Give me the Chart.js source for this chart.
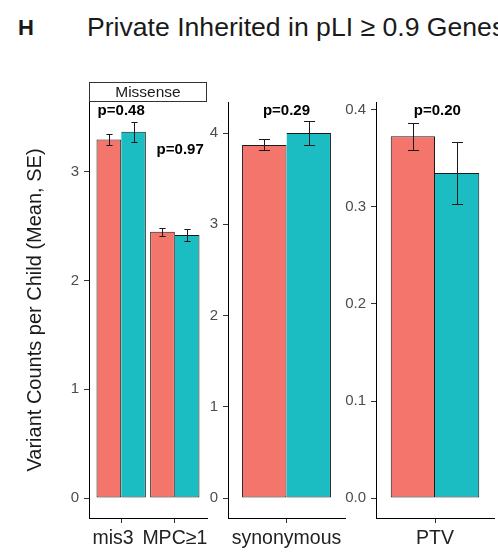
<!DOCTYPE html>
<html>
<head>
<meta charset="utf-8">
<script src="https://cdn.jsdelivr.net/npm/chart.js@4.4.1/dist/chart.umd.min.js"></script>
<style>
  html, body { margin: 0; padding: 0; background: #fff; overflow: hidden; }
  #wrap { position: relative; width: 498px; height: 560px; overflow: hidden;
          font-family: "Liberation Sans", Arial, sans-serif; }
  #wrap canvas { position: absolute; top: 0; }
  .t { position: absolute; white-space: nowrap; line-height: 1; color: #1a1a1a; }
</style>
</head>
<body>
<div id="wrap">
  <div class="t" style="left:18px;top:17px;font-size:22px;font-weight:bold">H</div>
  <div class="t" style="left:87px;top:14px;font-size:26.6px">Private Inherited in pLI ≥ 0.9 Genes</div>
  <canvas id="cMis" width="214" height="560" style="left:0"></canvas>
  <canvas id="cSyn" width="150" height="560" style="left:200px"></canvas>
  <canvas id="cPtv" width="153" height="560" style="left:345px"></canvas>
</div>
<script>
// ---- values: mean variant count per child and its standard error ----
const groupNames = ["Group 1", "Group 2"];

const missenseCategories = ["mis3", "MPC≥1"];
const missenseMean1 = [3.30, 2.45];
const missenseSE1   = [0.05, 0.035];
const missenseMean2 = [3.37, 2.42];
const missenseSE2   = [0.09, 0.055];
const missensePValues = ["p=0.48", "p=0.97"];
const missenseTickLabels = ["0", "1", "2", "3"];

const synonymousCategories = ["synonymous"];
const synonymousMean1 = [3.87];
const synonymousSE1   = [0.06];
const synonymousMean2 = [4.00];
const synonymousSE2   = [0.13];
const synonymousPValues = ["p=0.29"];
const synonymousTickLabels = ["0", "1", "2", "3", "4"];

const ptvCategories = ["PTV"];
const ptvMean1 = [0.373];
const ptvSE1   = [0.014];
const ptvMean2 = [0.335];
const ptvSE2   = [0.032];
const ptvPValues = ["p=0.20"];
const ptvTickLabels = ["0.0", "0.1", "0.2", "0.3", "0.4"];

// ---- styling ----
const FONT = "'Liberation Sans', Arial, sans-serif";
const RED = "#F3756C";
const TEAL = "#1CBDC2";
const INK = "#1a1a1a";

// error bars, p-value annotations and the facet strip
const decor = {
  id: "decor",
  afterDatasetsDraw(chart, args, o) {
    const ctx = chart.ctx;
    const xs = chart.scales.x, ys = chart.scales.y;
    ctx.save();
    ctx.strokeStyle = INK;
    ctx.lineWidth = 1;
    chart.data.datasets.forEach((ds, di) => {
      chart.getDatasetMeta(di).data.forEach((bar, j) => {
        const m = ds.data[j].y, e = ds.se[j];
        const cx = Math.round(bar.x) + 0.5;
        const top = Math.round(ys.getPixelForValue(m + e)) + 0.5;
        const bot = Math.round(ys.getPixelForValue(m - e)) + 0.5;
        const half = bar.width * o.capRatio / 2;
        ctx.beginPath();
        ctx.moveTo(cx, top); ctx.lineTo(cx, bot);
        ctx.moveTo(cx - half, top); ctx.lineTo(cx + half, top);
        ctx.moveTo(cx - half, bot); ctx.lineTo(cx + half, bot);
        ctx.stroke();
      });
    });
    ctx.fillStyle = "#000";
    ctx.font = "bold 15px " + FONT;
    ctx.textAlign = "center";
    ctx.textBaseline = "middle";
    o.pLabels.forEach((txt, i) => {
      const p = o.pPos[i];
      ctx.fillText(txt, xs.getPixelForValue(p.x), ys.getPixelForValue(p.y));
    });
    if (o.strip) {
      const a = chart.chartArea;
      const l = Math.round(a.left) + 0.5, r = Math.round(a.right) - 0.5;
      const t = a.top - 19.5, b = a.top - 0.5;
      ctx.fillStyle = "#fff";
      ctx.fillRect(l, t, r - l, b - t);
      ctx.strokeStyle = "#333";
      ctx.strokeRect(l, t, r - l, b - t);
      ctx.fillStyle = INK;
      ctx.font = "15.5px " + FONT;
      ctx.fillText(o.strip, (l + r) / 2, (t + b) / 2 + 1);
    }
    ctx.restore();
  }
};

function makePanel(id, p) {
  const tickValues = p.tickLabels.map(Number);
  const mkData = (means) => p.categories.map((c, i) => ({ x: i, y: means[i] }));
  // category label with optional spacing around it (keeps neighbouring labels apart)
  const catLabel = (i) => {
    const s = (p.labelSpacing && p.labelSpacing[i]) || [0, 0];
    return " ".repeat(s[0]) + p.categories[i] + " ".repeat(s[1]);
  };
  const axisGrid = { display: true, offset: false, drawOnChartArea: false, drawTicks: true, tickLength: 5, color: "#333" };
  return new Chart(document.getElementById(id), {
    type: "bar",
    data: {
      datasets: [
        { label: groupNames[0], data: mkData(p.mean1), se: p.se1,
          backgroundColor: RED, borderColor: INK, borderSkipped: false,
          borderWidth: { top: 1, right: 1, bottom: 1, left: 1 } },
        { label: groupNames[1], data: mkData(p.mean2), se: p.se2,
          backgroundColor: TEAL, borderColor: INK, borderSkipped: false,
          borderWidth: { top: 1, right: 1, bottom: 1, left: 0 } }
      ]
    },
    options: {
      responsive: false,
      animation: false,
      events: [],
      categoryPercentage: p.catPct,
      barPercentage: 1,
      layout: { padding: { top: 102, right: p.padRight, bottom: 0, left: 0 } },
      plugins: {
        legend: { display: false },
        tooltip: { enabled: false },
        decor: { capRatio: 0.25, pLabels: p.pLabels, pPos: p.pPos, strip: p.strip }
      },
      scales: {
        x: {
          type: "linear",
          offset: false,
          min: p.xMin, max: p.xMax,
          afterBuildTicks: (s) => { s.ticks = p.categories.map((c, i) => ({ value: i })); },
          afterFit: (s) => { s.height = 42; s.paddingLeft = 0; s.paddingRight = 0; },
          ticks: { callback: (v, i) => catLabel(i), autoSkip: false, maxRotation: 0,
                   font: { size: 19.5, family: FONT }, color: "#222", padding: 4 },
          grid: axisGrid,
          border: { display: true, color: "#000", width: 1 }
        },
        y: {
          type: "linear",
          min: p.yMin, max: p.yMax,
          afterBuildTicks: (s) => { s.ticks = tickValues.map((v) => ({ value: v })); },
          afterFit: (s) => { s.width = p.axisWidth; },
          ticks: { callback: (v, i) => p.tickLabels[i], autoSkip: false,
                   font: { size: 15, family: FONT }, color: "#4d4d4d", padding: 5 },
          grid: axisGrid,
          border: { display: true, color: "#000", width: 1 },
          title: p.yTitle
            ? { display: true, text: p.yTitle, color: INK, font: { size: 20, family: FONT },
                padding: { top: 23, bottom: 0 } }
            : { display: false }
        }
      }
    },
    plugins: [decor]
  });
}

makePanel("cMis", {
  categories: missenseCategories, mean1: missenseMean1, se1: missenseSE1,
  mean2: missenseMean2, se2: missenseSE2, tickLabels: missenseTickLabels,
  labelSpacing: [[0, 3], [0, 0]],
  pLabels: missensePValues, pPos: [{ x: 0, y: 3.56 }, { x: 1.1, y: 3.20 }],
  xMin: -0.6, xMax: 1.6, catPct: 0.92, yMin: -0.184, yMax: 3.644,
  axisWidth: 89, padRight: 7, strip: "Missense",
  yTitle: "Variant Counts per Child (Mean, SE)"
});

makePanel("cSyn", {
  categories: synonymousCategories, mean1: synonymousMean1, se1: synonymousSE1,
  mean2: synonymousMean2, se2: synonymousSE2, tickLabels: synonymousTickLabels,
  pLabels: synonymousPValues, pPos: [{ x: 0, y: 4.24 }],
  xMin: -0.5, xMax: 0.5, catPct: 0.76, yMin: -0.219, yMax: 4.34,
  axisWidth: 28, padRight: 5
});

makePanel("cPtv", {
  categories: ptvCategories, mean1: ptvMean1, se1: ptvSE1,
  mean2: ptvMean2, se2: ptvSE2, tickLabels: ptvTickLabels,
  pLabels: ptvPValues, pPos: [{ x: 0.02, y: 0.399 }],
  xMin: -0.5, xMax: 0.5, catPct: 0.75, yMin: -0.0206, yMax: 0.4082,
  axisWidth: 31, padRight: 4
});
</script>
</body>
</html>
